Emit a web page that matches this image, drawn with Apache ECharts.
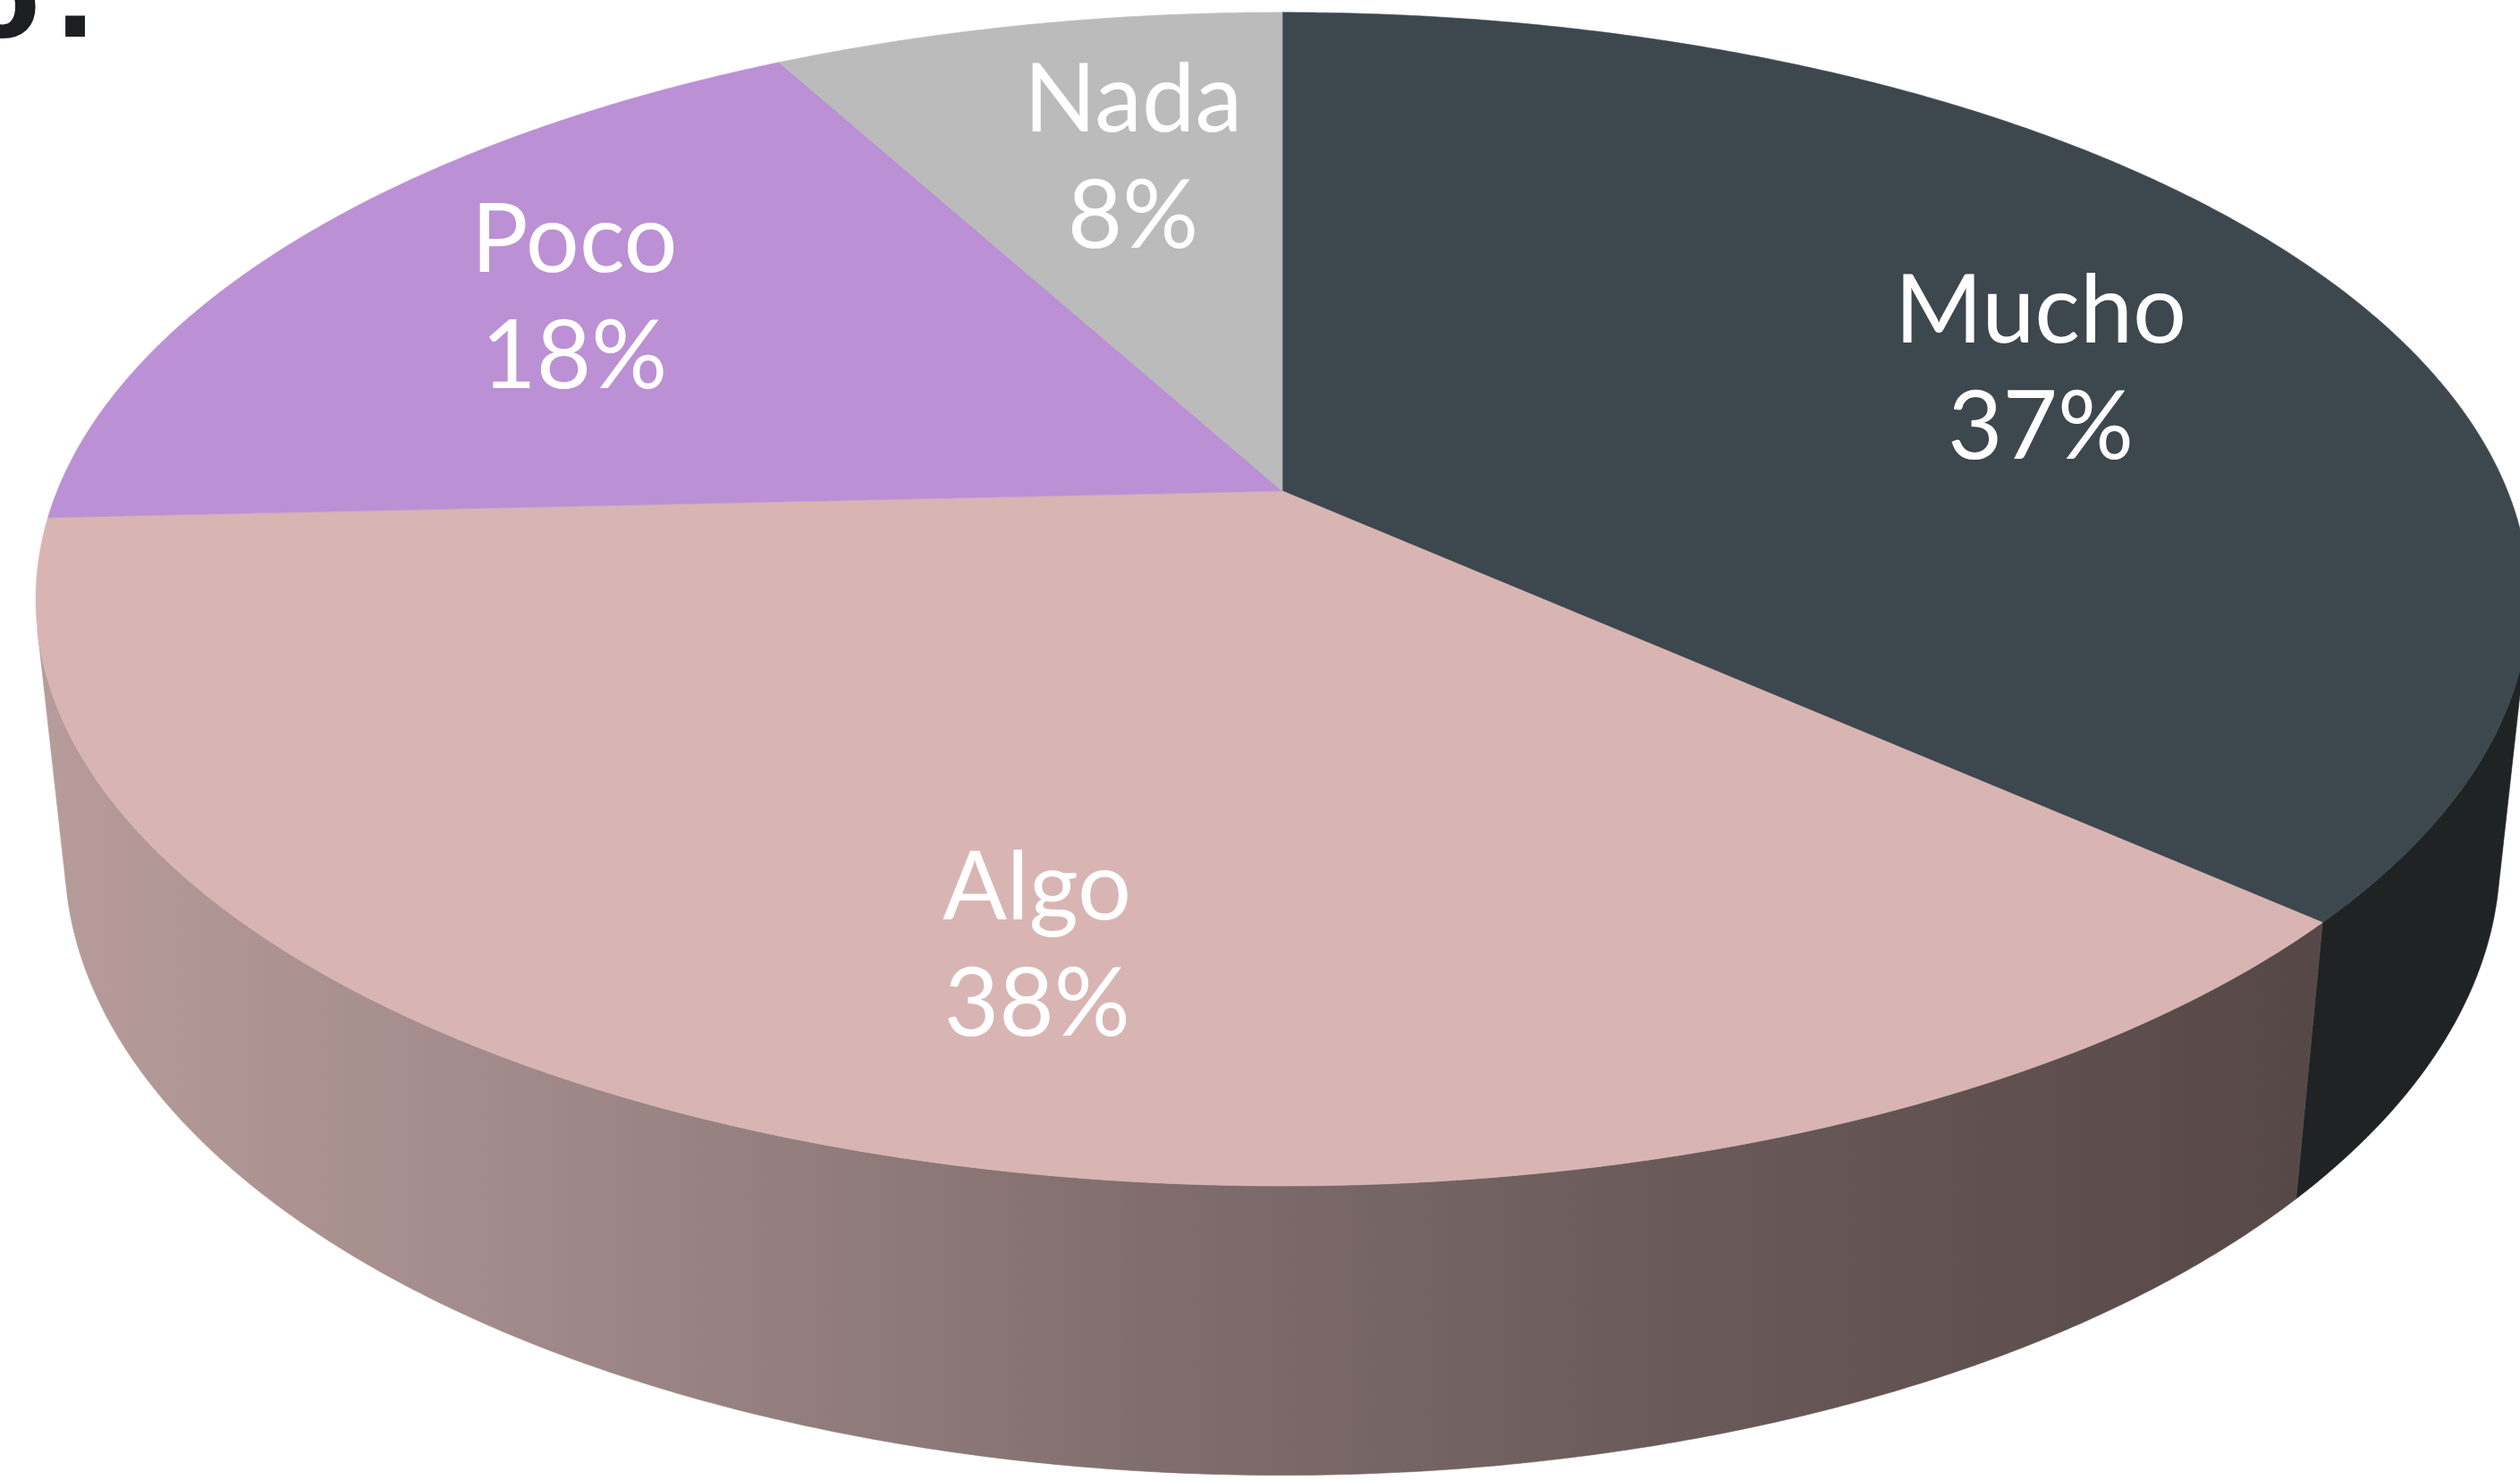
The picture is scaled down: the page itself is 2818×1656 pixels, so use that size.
<!DOCTYPE html>
<html><head><meta charset="utf-8">
<script src="https://cdn.jsdelivr.net/npm/echarts@6/dist/echarts.min.js"></script>
<style>html,body{margin:0;padding:0;background:#fff;overflow:hidden}#c{width:2818px;height:1656px}</style>
</head><body><div id="c"></div>
<script>
// ---- data ----
const categories = ['Mucho', 'Algo', 'Poco', 'Nada'];
const values = [37, 38, 18, 8];
const titleTail = ['o', ':'];

// ---- styles ----
const topColors = ['#3d474e', '#d8b5b3', '#bb90d4', '#bbbbbb'];
const sideColors = ['#1f2324', null, '#9a76ab', '#999999'];
const algoSideStops = [
  {offset: 0, color: '#b79c9b'},
  {offset: 0.25, color: '#9d8786'},
  {offset: 0.48, color: '#816f6e'},
  {offset: 0.7, color: '#6b5c5b'},
  {offset: 1, color: '#564847'}
];
// label layout nudges (px), style only
const labelNudge = [[16, 37], [92, 34], [-6, -9], [43, 11]];

// ---- 3D projection of the pie disk ----
const CX = 1434, CY = 549;
const CAM = {D: 4.81, s: 0.4626, c: 0.8866, F: 6590, H: 0.238};
function proj(u, v, h) {
  const d = CAM.D + h * CAM.s - v * CAM.c;
  return [CX + CAM.F * u / d, CY + CAM.F * (h * CAM.c + v * CAM.s) / d];
}
function rim(theta, h, r) {
  const t = theta * Math.PI / 180;
  return proj(r * Math.sin(t), -r * Math.cos(t), h);
}
// angles where the side wall is tangent to the view (visible wall between them)
const tanA = Math.acos(-1 / (CAM.D * CAM.c)) * 180 / Math.PI;
const wallFrom = tanA, wallTo = 360 - tanA;

const chart = echarts.init(document.getElementById('c'), null, {renderer: 'canvas'});
const total = values.reduce((a, b) => a + b, 0);

function sideFill(i) {
  if (i === 1) return new echarts.graphic.LinearGradient(40, 0, 2580, 0, algoSideStops, true);
  return sideColors[i];
}

function renderItem(params, api) {
  const i = params.dataIndex;
  let before = 0;
  for (let k = 0; k < i; k++) before += values[k];
  const val = api.value(0);
  const a0 = before / total * 360, a1 = (before + val) / total * 360;
  const children = [];
  // top face
  const topPts = [proj(0, 0, 0)];
  const n = Math.max(2, Math.ceil((a1 - a0) / 0.4));
  for (let k = 0; k <= n; k++) topPts.push(rim(a0 + (a1 - a0) * k / n, 0, 1));
  children.push({type: 'polygon', shape: {points: topPts}, style: {fill: topColors[i], stroke: topColors[i], lineWidth: 0.6}, z2: 5});
  // visible outer side wall
  const b0 = Math.max(a0, wallFrom), b1 = Math.min(a1, wallTo);
  if (b1 > b0) {
    const pts = [];
    const m = Math.max(2, Math.ceil((b1 - b0) / 0.4));
    for (let k = 0; k <= m; k++) pts.push(rim(b0 + (b1 - b0) * k / m, 0, 1));
    for (let k = m; k >= 0; k--) pts.push(rim(b0 + (b1 - b0) * k / m, CAM.H, 1));
    const f = sideFill(i);
    children.push({type: 'polygon', shape: {points: pts}, style: {fill: f, stroke: f, lineWidth: 0.6}, z2: 1});
  }
  // label
  const mid = (a0 + a1) / 2;
  const lp = rim(mid, 0, 0.7);
  children.push({
    type: 'text', x: lp[0] + labelNudge[i][0], y: lp[1] + labelNudge[i][1], z2: 10,
    style: {
      text: categories[i] + '\n' + val + '%',
      fill: '#ffffff', font: '400 106px Lato',
      align: 'center', verticalAlign: 'middle', lineHeight: 130
    }
  });
  return {type: 'group', children};
}

chart.setOption({
  animation: false,
  backgroundColor: '#ffffff',
  graphic: [
    {type: 'text', x: 45, y: 9, z: 10,
     style: {text: titleTail[0], fill: '#1d1e21', font: 'bold 124px "DejaVu Sans"', align: 'right', verticalAlign: 'middle'}},
    {type: 'text', x: 84, y: 9, z: 10,
     style: {text: titleTail[1], fill: '#1d1e21', font: 'bold 124px "DejaVu Sans"', align: 'center', verticalAlign: 'middle'}}
  ],
  series: [{
    type: 'custom',
    coordinateSystem: 'none',
    renderItem: renderItem,
    data: values.map((v, i) => ({name: categories[i], value: v}))
  }]
});
</script>
</body></html>
